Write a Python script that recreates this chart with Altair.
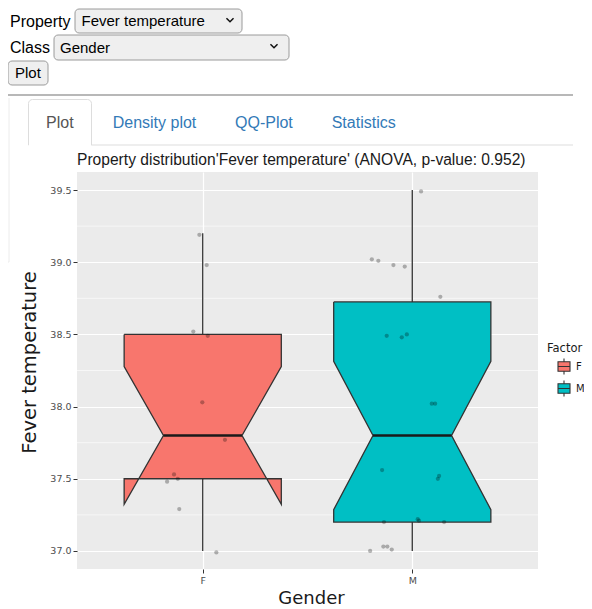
import altair as alt
import numpy as np
import pandas as pd

# ---------------- data ----------------
groups = ["F", "M"]
group_colors = ["#F8766D", "#00BFC4"]

# recorded values (0.1 resolution)
f_values = [39.2, 39.0, 38.5, 38.5, 38.0, 37.8, 37.5, 37.5, 37.5, 37.3, 37.0]
m_values = [39.5, 39.0, 39.0, 39.0, 39.0, 38.8, 38.5, 38.5, 38.5, 38.0, 38.0,
            37.6, 37.5, 37.5, 37.2, 37.2, 37.2, 37.2, 37.0, 37.0, 37.0, 37.0]

# jittered positions of the points as shown
f_shown_y = [39.19, 38.98, 38.52, 38.49, 38.03, 37.77, 37.53, 37.50, 37.48, 37.29, 36.99]
f_jitter_x = [-0.016, 0.019, -0.045, 0.024, -0.002, 0.106, -0.137, -0.119, -0.170, -0.112, 0.065]
m_shown_y = [39.49, 39.02, 39.01, 38.98, 38.97, 38.76, 38.49, 38.48, 38.50, 38.02, 38.02,
             37.56, 37.52, 37.50, 37.20, 37.22, 37.21, 37.20, 37.00, 37.03, 37.03, 37.01]
m_jitter_x = [0.042, -0.193, -0.162, -0.090, -0.036, 0.134, -0.122, -0.050, -0.026, 0.093, 0.109,
              -0.144, 0.128, 0.122, -0.135, 0.026, 0.032, 0.152, -0.201, -0.138, -0.119, -0.098]

y_ticks = [37.0, 37.5, 38.0, 38.5, 39.0, 39.5]
y_minor = [37.25, 37.75, 38.25, 38.75, 39.25]

title_text = "Property distribution'Fever temperature' (ANOVA, p-value: 0.952)"

# ---------------- box statistics (ggplot style) ----------------
def box_stats(vals):
    v = np.array(vals, dtype=float)
    q1, med, q3 = np.percentile(v, [25, 50, 75])
    iqr = q3 - q1
    lo = v[v >= q1 - 1.5 * iqr].min()
    hi = v[v <= q3 + 1.5 * iqr].max()
    notch = 1.58 * iqr / np.sqrt(len(v))
    return dict(lower=q1, middle=med, upper=q3, ymin=lo, ymax=hi,
                nlo=med - notch, nhi=med + notch)

values_by_group = [f_values, m_values]
shown_by_group = [f_shown_y, m_shown_y]
jitter_by_group = [f_jitter_x, m_jitter_x]

half_w = 0.375
indent = half_w * 0.5

poly_rows, whisk_rows, med_rows, pt_rows = [], [], [], []
all_lo, all_hi = [], []
for gi, g in enumerate(groups):
    xc = gi + 1
    s = box_stats(values_by_group[gi])
    all_lo.append(s["ymin"]); all_hi.append(s["ymax"])
    xl, xr = xc - half_w, xc + half_w
    verts = [
        (xl, s["upper"]), (xl, s["nhi"]), (xl + indent, s["middle"]), (xl, s["nlo"]),
        (xl, s["lower"]), (xr, s["lower"]), (xr, s["nlo"]), (xr - indent, s["middle"]),
        (xr, s["nhi"]), (xr, s["upper"]), (xl, s["upper"]),
    ]
    for i, (vx, vy) in enumerate(verts):
        poly_rows.append({"group": g, "x": vx, "y": vy, "i": i})
    whisk_rows.append({"group": g, "x": xc, "y": s["upper"], "y2": s["ymax"]})
    whisk_rows.append({"group": g, "x": xc, "y": s["lower"], "y2": s["ymin"]})
    med_rows.append({"group": g, "x": xl + indent, "x2": xr - indent, "y": s["middle"]})
    for yy, jx in zip(shown_by_group[gi], jitter_by_group[gi]):
        pt_rows.append({"group": g, "x": xc + jx, "y": yy})

poly_df = pd.DataFrame(poly_rows)
whisk_df = pd.DataFrame(whisk_rows)
med_df = pd.DataFrame(med_rows)
pt_df = pd.DataFrame(pt_rows)
minor_df = pd.DataFrame({"y": y_minor})

lo, hi = min(all_lo), max(all_hi)
pad = (hi - lo) * 0.05
y_domain = [lo - pad, hi + pad]
x_domain = [1 - 0.6, len(groups) + 0.6]

label_expr = "[" + ",".join("'" + g + "'" for g in groups) + "][datum.value - 1]"

X = alt.X("x:Q", scale=alt.Scale(domain=x_domain, nice=False, zero=False),
          axis=alt.Axis(values=list(range(1, len(groups) + 1)), labelExpr=label_expr,
                        titleX=234, titleY=34, titleBaseline="alphabetic", titleAlign="center"),
          title="Gender")
Y = alt.Y("y:Q", scale=alt.Scale(domain=y_domain, nice=False, zero=False),
          axis=alt.Axis(values=y_ticks, format=".1f", titleX=-42, titleY=190, titleAngle=270,
                        titleBaseline="alphabetic", titleAlign="center", titleFontSize=19.5),
          title="Fever temperature")

box_path = ("M-0.75,-0.6L0.75,-0.6L0.75,0.6L-0.75,0.6Z M-0.75,0L0.75,0 "
            "M0,-0.6L0,-1 M0,0.6L0,1")

minor = alt.Chart(minor_df).mark_rule(color="white", strokeWidth=0.6).encode(y=Y)
whisk = alt.Chart(whisk_df).mark_rule(color="#333333", strokeWidth=1.3).encode(x=X, y=Y, y2="y2:Q")
boxes = alt.Chart(poly_df).mark_line(stroke="#333333", strokeWidth=1.3, strokeJoin="miter").encode(
    x=X, y=Y, order=alt.Order("i:Q"),
    fill=alt.Fill("group:N", scale=alt.Scale(domain=groups, range=group_colors),
                  legend=alt.Legend(title="Factor", orient="none", legendX=470, legendY=171,
                                    symbolType=box_path, symbolSize=256, symbolStrokeWidth=1.1,
                                    symbolStrokeColor="#333333", symbolOffset=8,
                                    titleFont="DejaVu Sans", titleFontSize=11.5,
                                    titleFontWeight="normal", titleColor="#1a1a1a",
                                    labelFont="DejaVu Sans", labelFontSize=10, labelColor="#1a1a1a",
                                    labelOffset=3, titlePadding=3, rowPadding=0, padding=0)))
medians = alt.Chart(med_df).mark_rule(color="#1a1a1a", strokeWidth=2.4).encode(x=X, x2="x2:Q", y=Y)
points = alt.Chart(pt_df).mark_circle(size=18, color="black", opacity=0.28).encode(x=X, y=Y)

# ---------------- page chrome (Shiny UI) ----------------
ui = alt.Data(values=[{"a": 1}])
UI_FONT = "Liberation Sans"


def ui_text(txt, x, y, size=16, color="#000000"):
    return alt.Chart(ui).mark_text(text=txt, align="left", baseline="middle", font=UI_FONT,
                                   fontSize=size, color=color).encode(x=alt.value(x), y=alt.value(y))


def ui_box(x, x2, y, y2, fill="#efefef", stroke="#9a9a9a", r=4):
    return alt.Chart(ui).mark_rect(fill=fill, stroke=stroke, strokeWidth=1, cornerRadius=r).encode(
        x=alt.value(x), x2=alt.value(x2), y=alt.value(y), y2=alt.value(y2))


def ui_rule(x, x2, y, y2, color, w=1):
    return alt.Chart(ui).mark_rule(color=color, strokeWidth=w).encode(
        x=alt.value(x), x2=alt.value(x2), y=alt.value(y), y2=alt.value(y2))


def chevron(x, y):
    return alt.Chart(ui).mark_point(shape="M-1,-0.5L0,0.5L1,-0.5", filled=False, stroke="#111111",
                                    strokeWidth=1.5, size=50, opacity=1).encode(
        x=alt.value(x), y=alt.value(y))


chrome = [
    ui_text("Property", -67, -150),
    ui_box(-2, 165, -163, -139),
    ui_text("Fever temperature", 4.5, -151, size=15),
    chevron(153, -152),
    ui_text("Class", -67, -124),
    ui_box(-23, 212, -137, -112),
    ui_text("Gender", -17, -124.5, size=15),
    chevron(197, -126),
    ui_box(-69, -29, -111, -87),
    ui_text("Plot", -62, -99, size=15),
    ui_rule(-77, 496, -77, -77, "#a0a0a0", 1.5),
    ui_rule(-68, -68, -74, 90, "#ececec", 1),
    ui_rule(-77, -68, 90, 90, "#ececec", 1),
    alt.Chart(ui).mark_rect(fill="white", stroke="#dddddd", strokeWidth=1,
                            cornerRadiusTopLeft=4, cornerRadiusTopRight=4).encode(
        x=alt.value(-48.5), x2=alt.value(14.5), y=alt.value(-72.5), y2=alt.value(-27)),
    ui_rule(14.5, 496, -27, -27, "#dddddd", 1),
    ui_rule(-48, 14, -27, -27, "white", 2),
    ui_text("Plot", -31, -49, color="#555555"),
    ui_text("Density plot", 35.7, -49, color="#337ab7"),
    ui_text("QQ-Plot", 158, -49, color="#337ab7"),
    ui_text("Statistics", 254.7, -49, color="#337ab7"),
    ui_text(title_text, 0, -12, size=15.6, color="#1a1a1a"),
]

chart = alt.layer(minor, whisk, boxes, medians, points, *chrome).properties(
    width=461, height=397,
    padding={"left": 69, "top": 164, "right": 46, "bottom": 40},
    autosize=alt.AutoSizeParams(type="none"),
).configure_view(fill="#EBEBEB", strokeWidth=0).configure_axis(
    domain=False, grid=True, gridColor="white", gridWidth=1.2,
    tickColor="#333333", tickSize=4, tickWidth=1,
    labelColor="#4d4d4d", labelFont="DejaVu Sans", labelFontSize=9.5, labelPadding=2,
    titleFont="DejaVu Sans", titleFontSize=18, titleFontWeight="normal", titleColor="#1a1a1a",
)

chart.save("out.html", embed_options={"renderer": "svg", "actions": False})
